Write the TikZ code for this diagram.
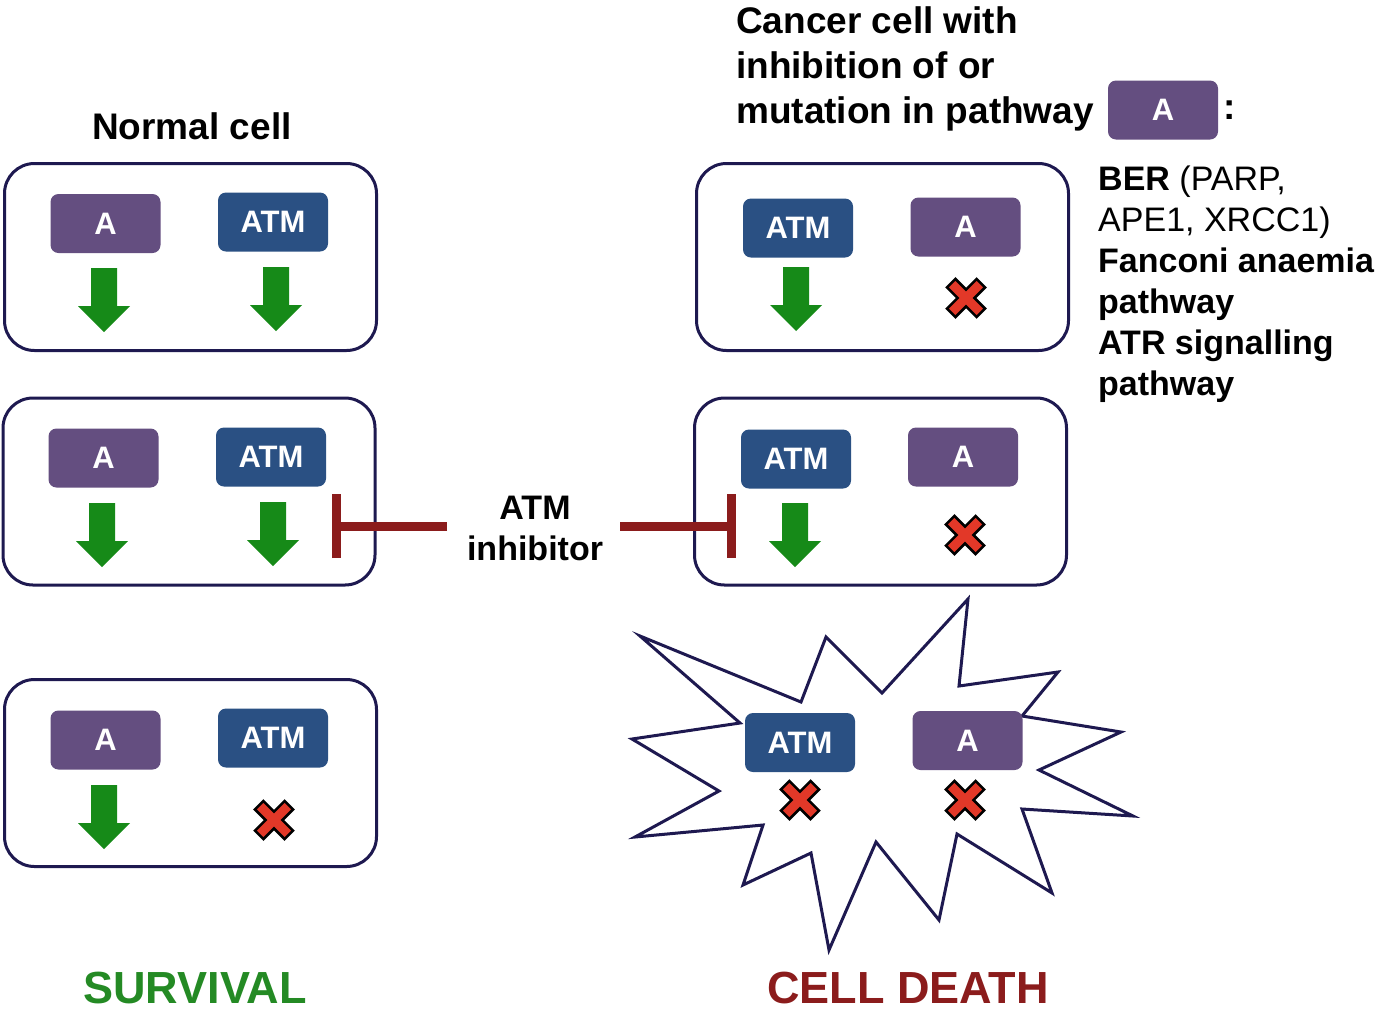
\documentclass[tikz,border=0pt]{standalone}
\usepackage{fontspec}
\setmainfont{Liberation Sans}
\usetikzlibrary{arrows.meta}
\definecolor{navy}{RGB}{30,25,80}
\definecolor{purpleA}{RGB}{100,78,128}
\definecolor{blueATM}{RGB}{42,80,131}
\definecolor{greenA}{RGB}{22,138,24}
\definecolor{greenT}{RGB}{36,138,36}
\definecolor{darkred}{RGB}{139,28,28}
\definecolor{redX}{RGB}{226,56,40}
\begin{document}
\begin{tikzpicture}[x=1pt,y=-1pt,
  cell/.style={draw=navy,line width=3pt,rounded corners=30pt,minimum width=372pt,minimum height=187pt,fill=white,inner sep=0pt},
  pbox/.style={fill=purpleA,rounded corners=8pt,minimum width=110pt,minimum height=59pt,inner sep=0pt,text=white,font=\fontsize{31}{37}\selectfont\bfseries},
  bbox/.style={pbox,fill=blueATM},
  inhib/.style={draw=darkred,line width=9pt,-{Bar[width=64pt,line width=9pt]}},
  pics/downarr/.style={code={\fill[greenA] (-13,0) -- (13,0) -- (13,38) -- (26,38) -- (0,64) -- (-26,38) -- (-13,38) -- cycle;}},
  pics/xmark/.style={code={\filldraw[fill=redX,draw=black,line width=2.5pt,line join=miter,rotate=45]
      (6,6) -- (21,6) -- (21,-6) -- (6,-6) -- (6,-21) -- (-6,-21) -- (-6,-6) -- (-21,-6) -- (-21,6) -- (-6,6) -- (-6,21) -- (6,21) -- cycle;}},
  ttl/.style={font=\fontsize{37}{45}\selectfont\bfseries,inner sep=0pt},
  lst/.style={font=\fontsize{34}{41}\selectfont,inner sep=0pt,align=left},
  big/.style={font=\fontsize{45}{54}\selectfont\bfseries,inner sep=0pt}
]
\useasboundingbox (0,0) rectangle (1388,1021);
\fill[white] (0,0) rectangle (1388,1021);

% titles
\node[ttl] (tnormal) at (192,126) {Normal cell};
\node[ttl,align=left,anchor=west] (tcancer) at (736,69) {Cancer cell with\\inhibition of or\\mutation in pathway};
\node[pbox] (tA) at (1163,110) {A};
\node[ttl] (tcolon) at (1230,110) {:};
\node[lst,anchor=west] (list) at (1098,284) {\textbf{BER} (PARP,\\APE1, XRCC1)\\\textbf{Fanconi anaemia}\\\textbf{pathway}\\\textbf{ATR signalling}\\\textbf{pathway}};

% left column cells
\node[cell] (c1) at (190.5,257) {};
\node[pbox] (c1a) at (105.5,223.5) {A};
\node[bbox] (c1b) at (273,222) {ATM};
\pic at (104,268) {downarr};
\pic at (276,267) {downarr};

\node[cell] (c2) at (189,491.5) {};
\node[pbox] (c2a) at (103.5,458) {A};
\node[bbox] (c2b) at (271,457) {ATM};
\pic at (102,503) {downarr};
\pic at (273,502) {downarr};

\node[cell] (c3) at (190.5,773) {};
\node[pbox] (c3a) at (105.5,740) {A};
\node[bbox] (c3b) at (273,738) {ATM};
\pic at (104,785) {downarr};
\pic at (274,820) {xmark};

% right column cells
\node[cell] (c4) at (882.5,257) {};
\node[bbox] (c4b) at (798,228) {ATM};
\node[pbox] (c4a) at (965.5,227) {A};
\pic at (796,267) {downarr};
\pic at (966,298) {xmark};

\node[cell] (c5) at (880.5,491.5) {};
\node[bbox] (c5b) at (796,459) {ATM};
\node[pbox] (c5a) at (963,457) {A};
\pic at (795,503) {downarr};
\pic at (965,535) {xmark};

% inhibitor
\node[font=\fontsize{34}{41}\selectfont\bfseries,align=center,inner sep=0pt] (inh) at (535,528) {ATM\\inhibitor};
\coordinate (inhL0) at (447,526);
\coordinate (inhL1) at (332,526);
\coordinate (inhR0) at (620,526);
\coordinate (inhR1) at (736,526);
\draw[inhib] (inhL0) -- (inhL1);
\draw[inhib] (inhR0) -- (inhR1);

% starburst
\draw[navy,line width=3pt,fill=white,line join=miter]
 (640,636) -- (801,702) -- (826,637) -- (882,693) -- (968,599) -- (959,686) -- (1058,672) -- (1022,716)
 -- (1121,732) -- (1039,770) -- (1133,816) -- (1022,809) -- (1052,893) -- (957,834) -- (939,920)
 -- (876,842) -- (829,950) -- (811,853) -- (743,885) -- (763,825) -- (635,837) -- (719,791)
 -- (632,739) -- (740,723) -- cycle;
\node[bbox] (db) at (800,742.5) {ATM};
\node[pbox] (da) at (967.5,740.5) {A};
\pic at (800,800) {xmark};
\pic at (965,800) {xmark};

% outcomes
\node[big,text=greenT] (surv) at (195,988) {SURVIVAL};
\node[big,text=darkred] (death) at (908,988) {CELL DEATH};
\end{tikzpicture}
\end{document}
